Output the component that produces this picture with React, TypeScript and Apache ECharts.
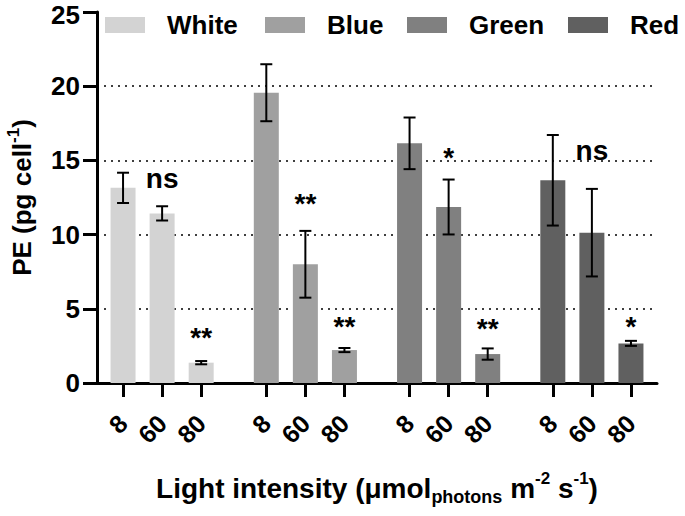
import React, { useEffect, useRef } from 'react';
import * as echarts from 'echarts';

const groups = ['White', 'Blue', 'Green', 'Red'];
const intensities = ['8', '60', '80'];
const colors = ['#d3d3d3', '#a0a0a0', '#808080', '#606060'];

const peWhite = [13.15, 11.43, 1.37];
const peBlue = [19.56, 8.0, 2.22];
const peGreen = [16.15, 11.86, 1.95];
const peRed = [13.66, 10.13, 2.67];

const sdWhite = [1.02, 0.48, 0.11];
const sdBlue = [1.92, 2.25, 0.14];
const sdGreen = [1.74, 1.85, 0.38];
const sdRed = [3.05, 2.95, 0.17];

const sigWhite = ['', 'ns', '**'];
const sigBlue = ['', '**', '**'];
const sigGreen = ['', '*', '**'];
const sigRed = ['', 'ns', '*'];

// vertical placement of the significance marks (data units)
const sigYWhite = [0, 13.8, 3.5];
const sigYBlue = [0, 12.5, 4.2];
const sigYGreen = [0, 15.6, 4.1];
const sigYRed = [0, 15.7, 4.2];

const yTicks = [0, 5, 10, 15, 20, 25];

const means = [peWhite, peBlue, peGreen, peRed];
const sds = [sdWhite, sdBlue, sdGreen, sdRed];
const sigs = [sigWhite, sigBlue, sigGreen, sigRed];
const sigYs = [sigYWhite, sigYBlue, sigYGreen, sigYRed];

// layout of bar slots on a hidden numeric x scale
const FIRST = 2;
const GROUP_PITCH = 11;
const BAR_PITCH = 3;
const xPos = (g: number, i: number) => FIRST + GROUP_PITCH * g + BAR_PITCH * i;

const FONT = '"Liberation Sans", Arial, sans-serif';
const legendLeft = [105, 265, 407, 568];

export default function App() {
  const ref = useRef<HTMLDivElement>(null);
  useEffect(() => {
    if (!ref.current) return;
    const chart = echarts.init(ref.current, undefined, { renderer: 'svg' });

    const tickPositions: number[] = [];
    const tickLabelMap: Record<string, string> = {};
    groups.forEach((_, g) =>
      intensities.forEach((lab, i) => {
        const p = xPos(g, i);
        tickPositions.push(p);
        tickLabelMap[String(p)] = lab;
      })
    );

    const errData: number[][] = [];
    const annData: number[][] = [];
    const annText: string[] = [];
    groups.forEach((_, g) =>
      intensities.forEach((__, i) => {
        const m = means[g][i];
        const s = sds[g][i];
        errData.push([xPos(g, i), m - s, m + s]);
        if (sigs[g][i]) {
          annData.push([xPos(g, i), sigYs[g][i]]);
          annText.push(sigs[g][i]);
        }
      })
    );

    const barSeries = groups.map((name, g) => ({
      type: 'bar',
      name,
      barWidth: 25,
      barGap: '-100%',
      itemStyle: { color: colors[g] },
      data: intensities.map((_, i) => [xPos(g, i), means[g][i]]),
      z: 2,
    }));

    const supStyle = { fontSize: 17, fontWeight: 'bold', fontFamily: FONT, color: '#000', verticalAlign: 'top', lineHeight: 18 };
    const subStyle = { fontSize: 18, fontWeight: 'bold', fontFamily: FONT, color: '#000', verticalAlign: 'bottom', lineHeight: 18 };

    const option: any = {
      animation: false,
      backgroundColor: '#ffffff',
      grid: {
        left: 97,
        right: 28,
        top: 12,
        bottom: 133,
        containLabel: false,
        outerBoundsMode: 'none',
      },
      legend: groups.map((name, g) => ({
        data: [name],
        left: legendLeft[g],
        top: 12,
        padding: 0,
        itemWidth: 40,
        itemHeight: 16,
        icon: 'rect',
        itemStyle: { borderWidth: 0 },
        textStyle: {
          fontSize: 26,
          fontWeight: 'bold',
          fontFamily: FONT,
          color: '#000',
          padding: [0, 0, 0, 17],
        },
      })),
      xAxis: {
        type: 'value',
        min: 0,
        max: 43,
        name: 'Light intensity (μmol{sub|photons} m{sup|-2} s{sup|-1})',
        nameLocation: 'middle',
        nameGap: 87,
        nameTextStyle: {
          fontSize: 28,
          fontWeight: 'bold',
          fontFamily: FONT,
          color: '#000',
          lineHeight: 36,
          rich: { sub: subStyle, sup: supStyle },
        },
        axisLine: { show: true, lineStyle: { color: '#000', width: 3 } },
        axisTick: {
          show: true,
          customValues: tickPositions,
          length: 14,
          lineStyle: { color: '#000', width: 3 },
        },
        axisLabel: {
          customValues: tickPositions,
          rotate: 45,
          margin: 36,
          fontSize: 25,
          fontWeight: 'bold',
          fontFamily: FONT,
          color: '#000',
          formatter: (v: number) => tickLabelMap[String(v)] ?? '',
        },
        splitLine: { show: false },
      },
      yAxis: {
        type: 'value',
        min: 0,
        max: 25,
        interval: 5,
        name: 'PE (pg cell{sup|-1})',
        nameLocation: 'middle',
        nameGap: 58,
        nameRotate: 90,
        nameTextStyle: {
          fontSize: 26,
          fontWeight: 'bold',
          fontFamily: FONT,
          color: '#000',
          lineHeight: 34,
          rich: { sup: supStyle },
        },
        axisLine: { show: true, lineStyle: { color: '#000', width: 3 } },
        axisTick: { show: true, length: 14, lineStyle: { color: '#000', width: 3 } },
        axisLabel: {
          margin: 17,
          fontSize: 26,
          fontWeight: 'bold',
          fontFamily: FONT,
          color: '#000',
          customValues: yTicks,
          formatter: (v: number) => (v === 25 ? '{top|25}' : String(v)),
          rich: {
            top: { fontSize: 26, fontWeight: 'bold', fontFamily: FONT, color: '#000', padding: [5, 0, 0, 0] },
          },
        },
        splitLine: {
          show: true,
          showMinLine: false,
          showMaxLine: false,
          lineStyle: { color: '#000', width: 1.5, type: [2, 5] },
        },
      },
      series: [
        ...barSeries,
        {
          type: 'custom',
          name: 'err',
          z: 5,
          encode: { x: 0, y: [1, 2] },
          data: errData,
          renderItem: (params: any, api: any) => {
            const x = api.value(0);
            const lo = api.coord([x, api.value(1)]);
            const hi = api.coord([x, api.value(2)]);
            const w = 6;
            const st = { stroke: '#000', lineWidth: 2 };
            return {
              type: 'group',
              children: [
                { type: 'line', shape: { x1: hi[0], y1: hi[1], x2: lo[0], y2: lo[1] }, style: st },
                { type: 'line', shape: { x1: hi[0] - w, y1: hi[1], x2: hi[0] + w, y2: hi[1] }, style: st },
                { type: 'line', shape: { x1: lo[0] - w, y1: lo[1], x2: lo[0] + w, y2: lo[1] }, style: st },
              ],
            };
          },
        },
        {
          type: 'custom',
          name: 'sig',
          z: 6,
          encode: { x: 0, y: 1 },
          data: annData,
          renderItem: (params: any, api: any) => {
            const p = api.coord([api.value(0), api.value(1)]);
            const t = annText[params.dataIndex];
            const star = t.indexOf('*') >= 0;
            return {
              type: 'text',
              x: p[0],
              y: p[1] + (star ? 6 : 0),
              style: {
                text: t,
                fontSize: 28,
                fontWeight: 'bold',
                fontFamily: FONT,
                fill: '#000',
                align: 'center',
                verticalAlign: 'middle',
              },
            };
          },
        },
      ],
    };

    chart.setOption(option);
    return () => chart.dispose();
  }, []);

  return (
    <div
      ref={ref}
      style={{ position: 'fixed', left: 0, top: 0, width: 685, height: 516, background: '#fff' }}
    />
  );
}
